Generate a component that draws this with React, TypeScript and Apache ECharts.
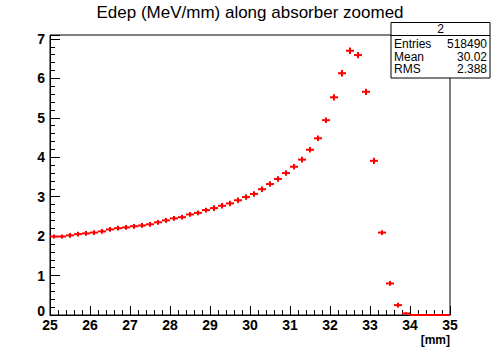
import { useEffect, useRef } from "react";
import * as echarts from "echarts";

// Histogram "2": Edep (MeV/mm) along absorber, zoomed 25-35 mm, 50 bins of 0.2 mm
const binCenters = [
  25.1, 25.3, 25.5, 25.7, 25.9, 26.1, 26.3, 26.5, 26.7, 26.9,
  27.1, 27.3, 27.5, 27.7, 27.9, 28.1, 28.3, 28.5, 28.7, 28.9,
  29.1, 29.3, 29.5, 29.7, 29.9, 30.1, 30.3, 30.5, 30.7, 30.9,
  31.1, 31.3, 31.5, 31.7, 31.9, 32.1, 32.3, 32.5, 32.7, 32.9,
  33.1, 33.3, 33.5, 33.7, 33.9, 34.1, 34.3, 34.5, 34.7, 34.9,
];
const binHalfWidth = 0.1;
const values = [
  1.99, 1.99, 2.02, 2.05, 2.07, 2.09, 2.12, 2.17, 2.2, 2.22,
  2.25, 2.27, 2.3, 2.35, 2.4, 2.45, 2.48, 2.55, 2.59, 2.66,
  2.71, 2.77, 2.83, 2.91, 2.99, 3.07, 3.19, 3.32, 3.45, 3.6,
  3.76, 3.94, 4.19, 4.48, 4.94, 5.52, 6.13, 6.7, 6.59, 5.66,
  3.91, 2.09, 0.8, 0.25, 0.04, 0, 0, 0, 0, 0,
];
const errors = [
  0.05, 0.05, 0.06, 0.06, 0.06, 0.06, 0.06, 0.06, 0.06, 0.06,
  0.06, 0.06, 0.06, 0.06, 0.06, 0.06, 0.06, 0.06, 0.06, 0.06,
  0.07, 0.07, 0.07, 0.07, 0.07, 0.07, 0.07, 0.07, 0.07, 0.07,
  0.07, 0.07, 0.07, 0.07, 0.07, 0.08, 0.08, 0.08, 0.08, 0.08,
  0.08, 0.06, 0.06, 0.06, 0.03, 0, 0, 0, 0, 0,
];

const xMin = 25;
const xMax = 35;
const yMin = 0;
const yMax = 7.1;

const titleText = "Edep (MeV/mm) along absorber zoomed";
const xAxisTitle = "[mm]";
const statsName = "2";
const statsLabels = ["Entries", "Mean", "RMS"];
const statsValues = ["518490", "30.02", "2.388"];

const FONT = "'Liberation Sans', Arial, Helvetica, sans-serif";

export default function App() {
  const ref = useRef<HTMLDivElement>(null);

  useEffect(() => {
    if (!ref.current) return;
    const chart = echarts.init(ref.current, undefined, { renderer: "svg" });

    const data = binCenters.map((x, i) => [x, values[i], errors[i]]);

    const statsGraphics: any[] = [
      {
        type: "rect",
        shape: { x: 391, y: 22.5, width: 99, height: 55.5 },
        style: { fill: "#fff", stroke: "#000", lineWidth: 1 },
        z: 100,
      },
      {
        type: "line",
        shape: { x1: 391, y1: 35.5, x2: 490, y2: 35.5 },
        style: { stroke: "#000", lineWidth: 1 },
        z: 101,
      },
      {
        type: "text",
        x: 440.5,
        y: 29,
        style: {
          text: statsName,
          fontFamily: FONT,
          fontSize: 12,
          fill: "#000",
          align: "center",
          verticalAlign: "middle",
        },
        z: 101,
      },
    ];
    statsLabels.forEach((lab, i) => {
      const y = 44 + i * 12.5;
      statsGraphics.push({
        type: "text",
        x: 394,
        y,
        style: {
          text: lab,
          fontFamily: FONT,
          fontSize: 12,
          fill: "#000",
          align: "left",
          verticalAlign: "middle",
        },
        z: 101,
      });
      statsGraphics.push({
        type: "text",
        x: 487,
        y,
        style: {
          text: statsValues[i],
          fontFamily: FONT,
          fontSize: 12,
          fill: "#000",
          align: "right",
          verticalAlign: "middle",
        },
        z: 101,
      });
    });

    chart.setOption({
      animation: false,
      backgroundColor: "#fff",
      title: {
        text: titleText,
        left: "center",
        top: -1,
        textStyle: {
          fontFamily: FONT,
          fontSize: 17,
          fontWeight: "normal",
          color: "#000",
        },
      },
      grid: {
        left: 50,
        right: 50,
        top: 35,
        bottom: 35,
        show: true,
        borderColor: "#000",
        borderWidth: 1,
        containLabel: false,
      },
      xAxis: [
        {
          type: "value",
          min: xMin,
          max: xMax,
          interval: 1,
          axisLine: { show: true, onZero: false, lineStyle: { color: "#000", width: 1 } },
          axisTick: { show: true, inside: true, length: 9, lineStyle: { color: "#000", width: 1 } },
          minorTick: { show: true, splitNumber: 5, length: 5, lineStyle: { color: "#000", width: 1 } },
          splitLine: { show: false },
          minorSplitLine: { show: false },
          axisLabel: {
            show: true,
            margin: 3,
            fontFamily: FONT,
            fontSize: 14,
            fontWeight: "bold",
            color: "#000",
          },
        },
      ],
      yAxis: [
        {
          type: "value",
          min: yMin,
          max: yMax,
          interval: 1,
          axisLine: { show: true, onZero: false, lineStyle: { color: "#000", width: 1 } },
          axisTick: { show: true, inside: true, length: 10, lineStyle: { color: "#000", width: 1 } },
          splitLine: { show: false },
          axisLabel: {
            show: true,
            margin: 5,
            fontFamily: FONT,
            fontSize: 14,
            fontWeight: "bold",
            color: "#000",
            formatter: (v: number) => {
              if (Math.abs(v - Math.round(v)) > 1e-6) return "";
              const n = Math.round(v);
              return n === 0 ? "{z|0}" : String(n);
            },
            rich: {
              z: {
                fontFamily: FONT,
                fontSize: 14,
                fontWeight: "bold",
                color: "#000",
                padding: [0, 0, 8, 0],
              },
            },
          },
        },
        {
          type: "value",
          min: yMin,
          max: yMax,
          interval: 0.2,
          position: "left",
          axisLine: { show: false },
          axisTick: { show: true, inside: true, length: 5, lineStyle: { color: "#000", width: 1 } },
          splitLine: { show: false },
          axisLabel: { show: false },
        },
      ],
      series: [
        {
          type: "custom",
          xAxisIndex: 0,
          yAxisIndex: 0,
          clip: false,
          z: 10,
          data,
          renderItem: (_params: any, api: any) => {
            const x = api.value(0);
            const y = api.value(1);
            const e = api.value(2);
            const l = api.coord([x - binHalfWidth, y]);
            const r = api.coord([x + binHalfWidth, y]);
            const t = api.coord([x, y + e]);
            const b = api.coord([x, Math.max(yMin, y - e)]);
            const style = { stroke: "#ff0000", lineWidth: 2 };
            return {
              type: "group",
              children: [
                { type: "line", shape: { x1: l[0], y1: l[1], x2: r[0], y2: r[1] }, style },
                { type: "line", shape: { x1: t[0], y1: t[1], x2: b[0], y2: b[1] }, style },
              ],
            };
          },
        },
      ],
      graphic: [
        {
          type: "text",
          x: 450,
          y: 340,
          style: {
            text: xAxisTitle,
            fontFamily: FONT,
            fontSize: 12,
            fontWeight: "bold",
            fill: "#000",
            align: "right",
            verticalAlign: "middle",
          },
        },
        ...statsGraphics,
      ],
    });

    return () => chart.dispose();
  }, []);

  return (
    <div
      ref={ref}
      style={{ position: "fixed", left: 0, top: 0, width: 500, height: 350, background: "#fff" }}
    />
  );
}
